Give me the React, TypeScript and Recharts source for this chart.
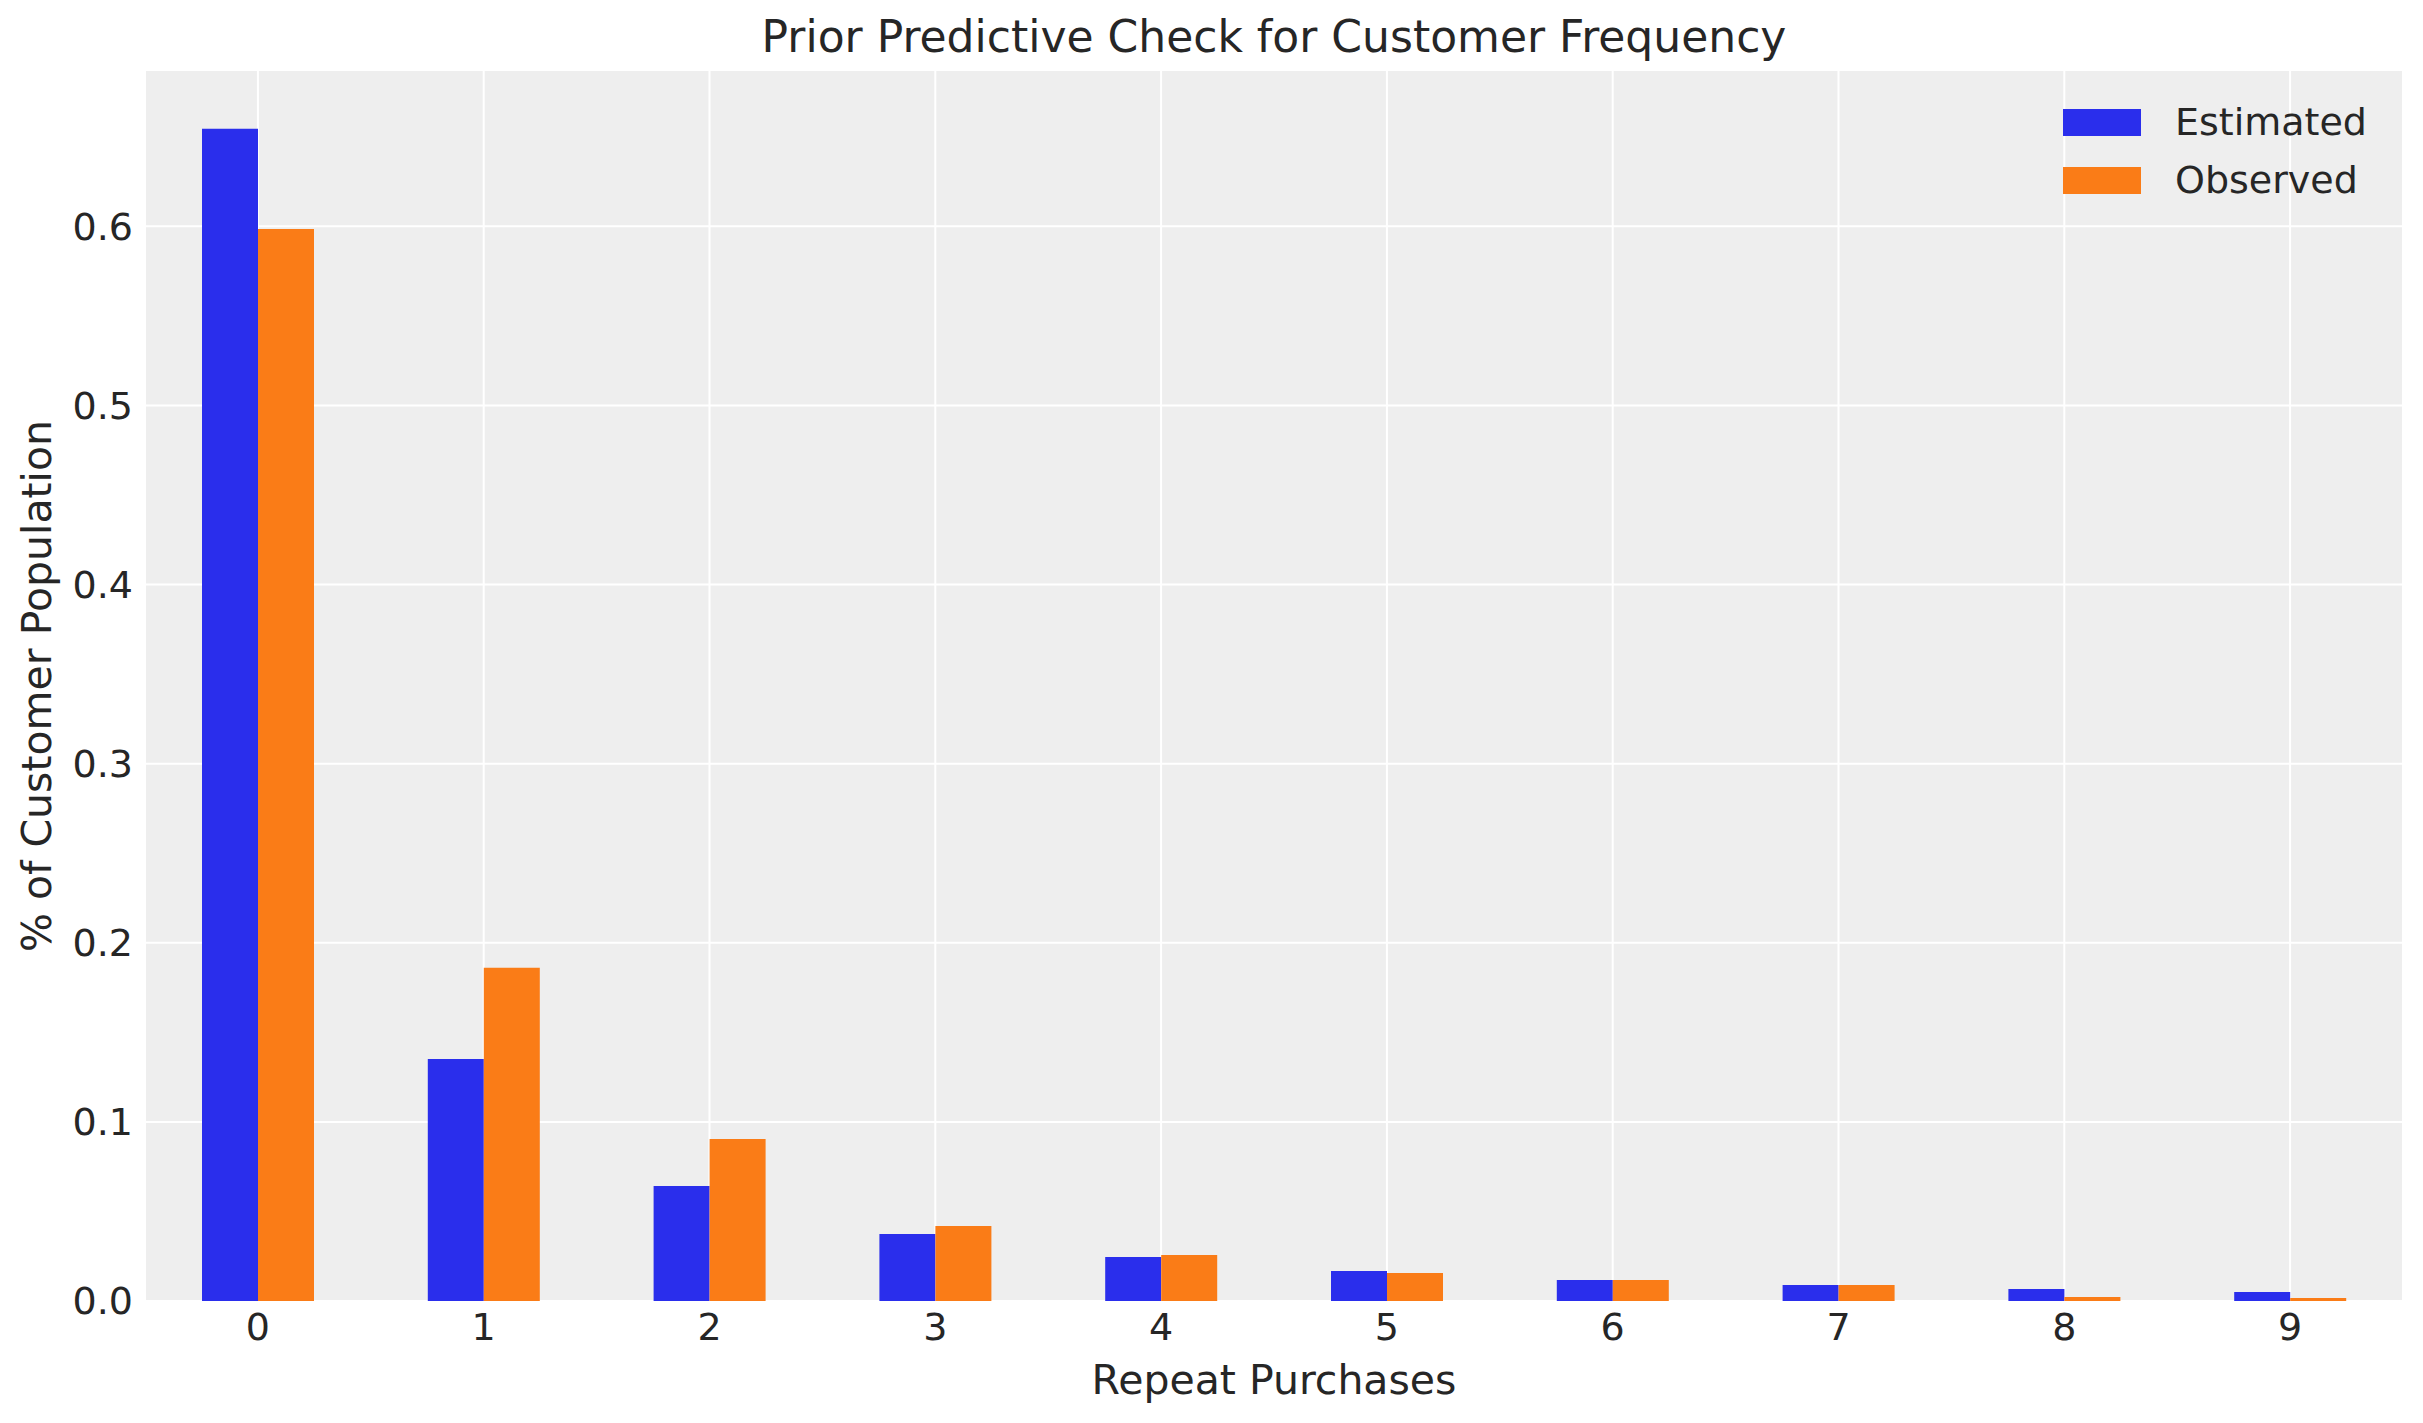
import React from 'react';
import { BarChart, Bar, XAxis, YAxis, CartesianGrid, Legend } from 'recharts';

const purchases = ['0', '1', '2', '3', '4', '5', '6', '7', '8', '9'];
const estimated = [0.6545, 0.1351, 0.0642, 0.0374, 0.0246, 0.0168, 0.0117, 0.0089, 0.0067, 0.0050];
const observed = [0.5985, 0.186, 0.0905, 0.0419, 0.0257, 0.0156, 0.0117, 0.0089, 0.0022, 0.0017];
const yTicks = [0, 0.1, 0.2, 0.3, 0.4, 0.5, 0.6];

const COLORS = {
  estimated: '#2a2eec',
  observed: '#fa7c17',
  panel: '#eeeeee',
  text: '#262626',
};

const FONT = 'DejaVu Sans';

const data = purchases.map((name, i) => ({
  name,
  Estimated: estimated[i],
  Observed: observed[i],
}));

const XTick = ({ x, y, payload }: any) => (
  <text x={x} y={y} dy="0.71em" textAnchor="middle" fill={COLORS.text} fontFamily={FONT} fontSize={38}>
    {payload.value}
  </text>
);

const YTick = ({ x, y, payload }: any) => (
  <text x={x} y={y} dy="0.355em" textAnchor="end" fill={COLORS.text} fontFamily={FONT} fontSize={38}>
    {Number(payload.value).toFixed(1)}
  </text>
);

// legend drawn inside the plot, top-right like matplotlib
const LegendBox = ({ payload }: any) => (
  <div style={{ position: 'absolute', left: 2063, top: 93, fontFamily: FONT, fontSize: 38, color: COLORS.text }}>
    {(payload || []).map((entry: any) => (
      <div key={entry.value} style={{ display: 'flex', alignItems: 'center', height: 58 }}>
        <span style={{ display: 'inline-block', width: 78, height: 27, background: entry.color, marginRight: 34 }} />
        <span style={{ lineHeight: '38px' }}>{entry.value}</span>
      </div>
    ))}
  </div>
);

export default function App() {
  return (
    <div style={{ position: 'absolute', left: 0, top: 0, width: 2423, height: 1423, background: '#fff' }}>
      <BarChart
        width={2423}
        height={1423}
        data={data}
        margin={{ top: 70, right: 20, bottom: 62, left: 45 }}
        barGap={0}
      >
        <CartesianGrid fill={COLORS.panel} stroke="#ffffff" strokeWidth={2} />
        <XAxis
          dataKey="name"
          axisLine={false}
          tickLine={false}
          tickSize={0}
          tickMargin={12}
          height={60}
          tick={<XTick />}
          interval={0}
        />
        <YAxis
          type="number"
          domain={[0, 0.6873]}
          ticks={yTicks}
          allowDataOverflow
          axisLine={false}
          tickLine={false}
          tickSize={0}
          tickMargin={12}
          width={100}
          tick={<YTick />}
        />
        <Legend content={<LegendBox />} wrapperStyle={{ position: 'absolute', left: 0, top: 0, width: 0, height: 0 }} />
        <Bar dataKey="Estimated" fill={COLORS.estimated} barSize={56} isAnimationActive={false} />
        <Bar dataKey="Observed" fill={COLORS.observed} barSize={56} isAnimationActive={false} />
      </BarChart>
      <svg
        width={2423}
        height={1423}
        style={{ position: 'absolute', left: 0, top: 0, pointerEvents: 'none' }}
      >
        <text x={1274} y={52} textAnchor="middle" fill={COLORS.text} fontFamily={FONT} fontSize={44}>
          Prior Predictive Check for Customer Frequency
        </text>
        <text x={1274} y={1394} textAnchor="middle" fill={COLORS.text} fontFamily={FONT} fontSize={41}>
          Repeat Purchases
        </text>
        <text
          x={51}
          y={686}
          textAnchor="middle"
          fill={COLORS.text}
          fontFamily={FONT}
          fontSize={41}
          transform="rotate(-90, 51, 686)"
        >
          % of Customer Population
        </text>
      </svg>
    </div>
  );
}
